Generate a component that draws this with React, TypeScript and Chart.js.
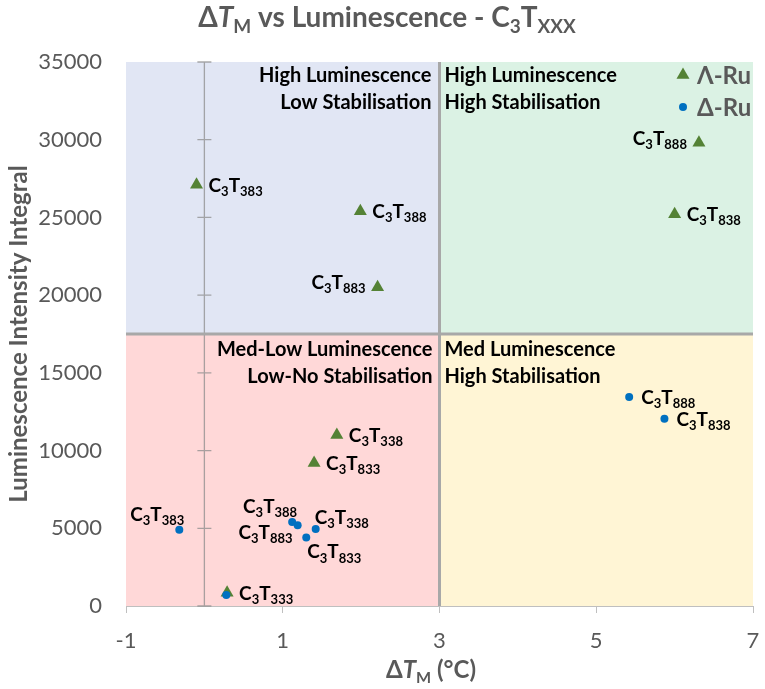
import { useEffect, useRef } from 'react'
import { Chart, registerables } from 'chart.js'

Chart.register(...registerables)

// Λ-Ru (green triangles)
const lambdaX = [-0.1, 1.99, 2.21, 6.31, 6.0, 1.69, 1.4, 0.29]
const lambdaY = [27100, 25400, 20500, 29800, 25200, 11000, 9200, 850]
const lambdaCodes = ['383', '388', '883', '888', '838', '338', '833', '333']

// Δ-Ru (blue circles)
const deltaX = [-0.32, 1.12, 1.19, 1.42, 1.3, 0.28, 5.42, 5.87]
const deltaY = [4900, 5400, 5200, 4950, 4400, 700, 13450, 12050]
const deltaCodes = ['383', '388', '883', '338', '833', '333', '888', '838']

const xTicks = [-1, 1, 3, 5, 7]
const yTicks = [0, 5000, 10000, 15000, 20000, 25000, 30000, 35000]

// quadrant split
const splitX = 3
const splitY = 17500

const quadrantText = {
  topLeft: ['High Luminescence', 'Low Stabilisation'],
  topRight: ['High Luminescence', 'High Stabilisation'],
  bottomLeft: ['Med-Low Luminescence', 'Low-No Stabilisation'],
  bottomRight: ['Med Luminescence', 'High Stabilisation'],
}

// where each point's label sits
const lambdaPlace = ['right', 'right', 'left', 'left', 'right', 'right', 'right', 'right']
const deltaPlace = ['aboveLeft', 'aboveLeft', 'belowLeft', 'aboveRight', 'belowRight', 'none', 'right', 'right']

const FONT = "Lato, 'Open Sans', 'DejaVu Sans', sans-serif"
const GREY = '#595959'

const placements: Record<string, { dx: number; dy: number; align: string }> = {
  right: { dx: 12, dy: 0, align: 'left' },
  left: { dx: -12, dy: -5, align: 'right' },
  aboveLeft: { dx: 5, dy: -16, align: 'right' },
  aboveRight: { dx: -1, dy: -12, align: 'left' },
  belowRight: { dx: 1, dy: 14, align: 'left' },
  belowLeft: { dx: -5, dy: 7, align: 'right' },
}

type Run = { t: string; sub?: boolean; it?: boolean }

function drawRuns(ctx: CanvasRenderingContext2D, runs: Run[], x: number, y: number, align: string, size: number, color: string) {
  const subSize = Math.round(size * 0.68)
  const fontOf = (r: Run) => `${r.it ? 'italic ' : ''}bold ${r.sub ? subSize : size}px ${FONT}`
  let w = 0
  for (const r of runs) {
    ctx.font = fontOf(r)
    w += ctx.measureText(r.t).width
  }
  let cx = align === 'left' ? x : align === 'right' ? x - w : x - w / 2
  const base = y + size * 0.36
  ctx.fillStyle = color
  ctx.textAlign = 'left'
  ctx.textBaseline = 'alphabetic'
  for (const r of runs) {
    ctx.font = fontOf(r)
    ctx.fillText(r.t, cx, base + (r.sub ? size * 0.22 : 0))
    cx += ctx.measureText(r.t).width
  }
}

const compound = (code: string): Run[] => [{ t: 'C' }, { t: '3', sub: true }, { t: 'T' }, { t: code, sub: true }]

const quadrantPlugin = {
  id: 'quadrants',
  beforeDraw(chart: any) {
    const { ctx, chartArea: a, scales } = chart
    const mx = scales.x.getPixelForValue(splitX)
    const my = scales.y.getPixelForValue(splitY)
    ctx.save()
    ctx.fillStyle = '#E1E6F4'
    ctx.fillRect(a.left, a.top, mx - a.left, my - a.top)
    ctx.fillStyle = '#DBF2E4'
    ctx.fillRect(mx, a.top, a.right - mx, my - a.top)
    ctx.fillStyle = '#FFD8D8'
    ctx.fillRect(a.left, my, mx - a.left, a.bottom - my)
    ctx.fillStyle = '#FFF5D5'
    ctx.fillRect(mx, my, a.right - mx, a.bottom - my)
    ctx.restore()
  },
  beforeDatasetsDraw(chart: any) {
    const { ctx, chartArea: a, scales } = chart
    const x0 = scales.x.getPixelForValue(0)
    const mx = scales.x.getPixelForValue(splitX)
    const my = scales.y.getPixelForValue(splitY)
    ctx.save()
    // zero line with cross ticks
    ctx.strokeStyle = 'rgba(140,140,140,0.75)'
    ctx.lineWidth = 1.3
    ctx.beginPath()
    ctx.moveTo(x0, a.top)
    ctx.lineTo(x0, a.bottom)
    for (const t of yTicks) {
      const py = scales.y.getPixelForValue(t)
      ctx.moveTo(x0 - 7, py)
      ctx.lineTo(x0 + 7, py)
    }
    ctx.stroke()
    // dividers
    ctx.strokeStyle = '#A8A8A8'
    ctx.lineWidth = 3
    ctx.beginPath()
    ctx.moveTo(mx, a.top)
    ctx.lineTo(mx, a.bottom)
    ctx.moveTo(a.left, my)
    ctx.lineTo(a.right, my)
    ctx.stroke()
    // quadrant captions
    const put = (lines: string[], x: number, y: number, align: string) => {
      lines.forEach((s, i) => drawRuns(ctx, [{ t: s }], x, y + i * 27, align, 20, '#000000'))
    }
    put(quadrantText.topLeft, mx - 8, a.top + 13, 'right')
    put(quadrantText.topRight, mx + 5, a.top + 13, 'left')
    put(quadrantText.bottomLeft, mx - 7, my + 15, 'right')
    put(quadrantText.bottomRight, mx + 5, my + 15, 'left')
    ctx.restore()
  },
  afterDatasetsDraw(chart: any) {
    const { ctx, chartArea: a } = chart
    ctx.save()
    const sets = [
      { idx: 0, codes: lambdaCodes, place: lambdaPlace },
      { idx: 1, codes: deltaCodes, place: deltaPlace },
    ]
    for (const s of sets) {
      const meta = chart.getDatasetMeta(s.idx)
      meta.data.forEach((el: any, i: number) => {
        const p = placements[s.place[i]]
        if (!p) return
        drawRuns(ctx, compound(s.codes[i]), el.x + p.dx, el.y + p.dy, p.align, 19, '#000000')
      })
    }
    // legend
    const lx = a.right - 70
    chart.data.datasets.forEach((ds: any, i: number) => {
      const ly = a.top + 13 + i * 32
      ctx.fillStyle = ds.pointBackgroundColor
      ctx.beginPath()
      if (ds.pointStyle === 'triangle') {
        const r = ds.pointRadius
        ctx.moveTo(lx, ly - r)
        ctx.lineTo(lx + r * 0.866, ly + r * 0.5)
        ctx.lineTo(lx - r * 0.866, ly + r * 0.5)
        ctx.closePath()
      } else {
        ctx.arc(lx, ly, ds.pointRadius, 0, Math.PI * 2)
      }
      ctx.fill()
      drawRuns(ctx, [{ t: ds.label }], lx + 14, ly, 'left', 24, GREY)
    })
    ctx.restore()
  },
  afterDraw(chart: any) {
    const { ctx, chartArea: a } = chart
    ctx.save()
    drawRuns(
      ctx,
      [{ t: 'Δ' }, { t: 'T', it: true }, { t: 'M', sub: true }, { t: ' vs Luminescence - C' }, { t: '3', sub: true }, { t: 'T' }, { t: 'XXX', sub: true }],
      387, 17, 'center', 28, GREY,
    )
    drawRuns(ctx, [{ t: 'Δ' }, { t: 'T', it: true }, { t: 'M', sub: true }, { t: ' (°C)' }], 431, 669, 'center', 24, GREY)
    ctx.translate(18, (a.top + a.bottom) / 2)
    ctx.rotate(-Math.PI / 2)
    drawRuns(ctx, [{ t: 'Luminescence Intensity Integral' }], 0, 0, 'center', 24, GREY)
    ctx.restore()
  },
}

export default function App() {
  const canvasRef = useRef<HTMLCanvasElement>(null)
  const chartRef = useRef<Chart | null>(null)

  useEffect(() => {
    const canvas = canvasRef.current
    if (!canvas) return
    chartRef.current?.destroy()
    chartRef.current = new Chart(canvas, {
      type: 'scatter',
      data: {
        datasets: [
          {
            label: 'Λ-Ru',
            data: lambdaX.map((x, i) => ({ x, y: lambdaY[i] })),
            pointStyle: 'triangle',
            pointRadius: 7.5,
            pointBackgroundColor: '#548235',
            pointBorderWidth: 0,
            order: 2,
          },
          {
            label: 'Δ-Ru',
            data: deltaX.map((x, i) => ({ x, y: deltaY[i] })),
            pointStyle: 'circle',
            pointRadius: 4,
            pointBackgroundColor: '#0070C0',
            pointBorderWidth: 0,
            order: 1,
          },
        ] as any,
      },
      options: {
        responsive: true,
        maintainAspectRatio: false,
        animation: false,
        layout: { padding: { top: 62, right: 12, left: 0, bottom: 0 } },
        scales: {
          x: {
            type: 'linear',
            min: -1,
            max: 7,
            afterBuildTicks: (s: any) => { s.ticks = xTicks.map((v) => ({ value: v })) },
            afterFit: (s: any) => { s.height = 83; s.paddingLeft = 0; s.paddingRight = 0 },
            ticks: { font: { family: FONT, size: 22 }, color: GREY, padding: 15 },
            grid: { drawOnChartArea: false, drawTicks: true, tickLength: 7, color: '#BFBFBF' },
            border: { display: true, color: '#BFBFBF' },
          },
          y: {
            type: 'linear',
            min: 0,
            max: 35000,
            afterBuildTicks: (s: any) => { s.ticks = yTicks.map((v) => ({ value: v })) },
            afterFit: (s: any) => { s.width = 126; s.paddingTop = 0; s.paddingBottom = 0 },
            ticks: { font: { family: FONT, size: 22 }, color: GREY, padding: 24, callback: (v: any) => String(v) },
            grid: { display: false, drawTicks: false },
            border: { display: false },
          },
        },
        plugins: {
          legend: { display: false },
          tooltip: { enabled: false },
        },
      },
      plugins: [quadrantPlugin],
    })
    return () => { chartRef.current?.destroy() }
  }, [])

  return (
    <div style={{ position: 'fixed', left: 0, top: 0, width: 765, height: 689, background: '#fff' }}>
      <canvas ref={canvasRef} />
    </div>
  )
}
